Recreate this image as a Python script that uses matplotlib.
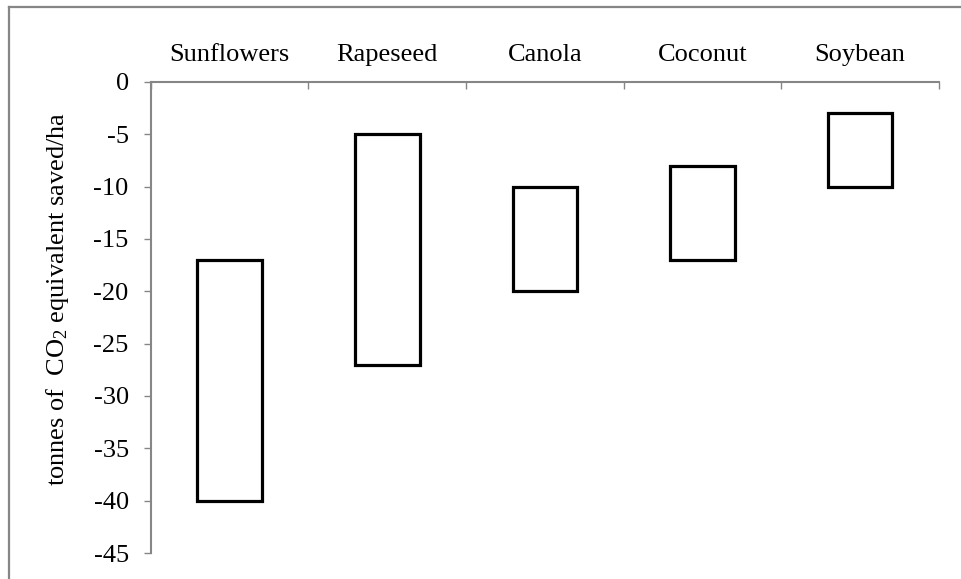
import numpy as np
import matplotlib.pyplot as plt
from matplotlib.lines import Line2D

# --- Data ---
crops = ["Sunflowers", "Rapeseed", "Canola", "Coconut", "Soybean"]
upper = [-17, -5, -10, -8, -3]
lower = [-40, -27, -20, -17, -10]
y_ticks = [0, -5, -10, -15, -20, -25, -30, -35, -40, -45]

plt.rcParams['font.family'] = ['Liberation Serif', 'DejaVu Serif']
plt.rcParams['mathtext.fontset'] = 'custom'
plt.rcParams['mathtext.rm'] = 'Liberation Serif'
plt.rcParams['mathtext.default'] = 'regular'

GRAY = '#868686'
FS = 19

fig = plt.figure(figsize=(9.61, 5.79), dpi=100)
ax = fig.add_axes([0.157, 0.0449, 0.820, 0.8135])

x = np.arange(len(crops)) + 0.5
heights = np.array(upper) - np.array(lower)
ax.bar(x, heights, bottom=lower, width=0.41, color='white',
       edgecolor='black', linewidth=2.3, zorder=3)

ax.set_xlim(0, len(crops))
ax.set_ylim(-45, 0)

# y axis
ax.set_yticks(y_ticks)
ax.set_yticklabels([str(v) for v in y_ticks])
ax.tick_params(axis='y', direction='out', length=5, width=1, color=GRAY,
               labelsize=FS, pad=11)
ax.set_ylabel(r'tonnes of  CO$_2$ equivalent saved/ha', fontsize=FS)
ax.yaxis.set_label_coords(-0.101, 0.54)

# x axis on top, labels between boundary ticks
ax.xaxis.tick_top()
ax.set_xticks(np.arange(len(crops) + 1))
ax.set_xticklabels([])
ax.set_xticks(x, minor=True)
ax.set_xticklabels(crops, minor=True)
ax.tick_params(axis='x', which='major', direction='in', length=5, width=1,
               color=GRAY)
ax.tick_params(axis='x', which='minor', length=0, labelsize=FS, pad=11.5)

for side in ['bottom', 'right']:
    ax.spines[side].set_visible(False)
for side in ['top', 'left']:
    ax.spines[side].set_color(GRAY)
    ax.spines[side].set_linewidth(1.5)

# outer chart frame (cut off at right and bottom)
fx = 8.5 / 961
fy = 1 - 6.5 / 579
fig.add_artist(Line2D([fx, fx], [0, fy], transform=fig.transFigure,
                      color=GRAY, linewidth=1.6))
fig.add_artist(Line2D([fx, 1], [fy, fy], transform=fig.transFigure,
                      color=GRAY, linewidth=1.6))

fig.savefig('out.png', dpi=100)
